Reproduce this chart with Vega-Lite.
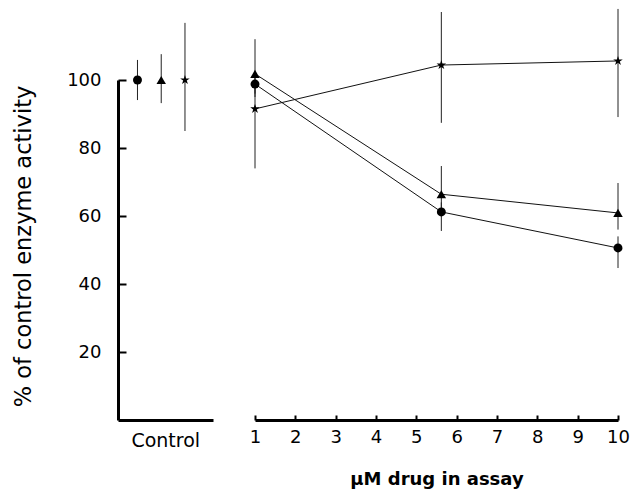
{
  "$schema": "https://vega.github.io/schema/vega-lite/v6.json",
  "padding": {"left": 11, "top": 8, "right": 0, "bottom": 2},
  "bounds": "flush",
  "spacing": 42,
  "config": {
    "view": {"stroke": null},
    "axis": {"grid": false, "domainColor": "black", "tickColor": "black", "labelColor": "black", "titleColor": "black", "labelFont": "DejaVu Sans", "titleFont": "DejaVu Sans"}
  },
  "hconcat": [
    {
      "width": 95,
      "height": 340,
      "data": {"values": [
        {"series": "circle", "pct": 100, "lo": 94.1, "hi": 105.9},
        {"series": "triangle", "pct": 100, "lo": 93.2, "hi": 107.6},
        {"series": "star", "pct": 100, "lo": 85, "hi": 116.8}
      ]},
      "layer": [
        {
          "mark": {"type": "rule", "color": "#222", "strokeWidth": 1},
          "encoding": {
            "x": {"field": "series", "type": "nominal", "scale": {"type": "point", "domain": ["circle", "triangle", "star"], "padding": 1.97, "align": 0.41},
              "axis": {"values": ["triangle"], "labelExpr": "'Control'", "ticks": false, "domainWidth": 3, "labelFontSize": 19, "labelPadding": 11, "labelOffset": 4, "labelAngle": 0, "title": null}},
            "y": {"field": "lo", "type": "quantitative", "scale": {"domain": [0, 100], "nice": false},
              "axis": {"values": [20, 40, 60, 80, 100], "domainWidth": 3, "tickSize": -8, "tickWidth": 2, "labelFontSize": 18, "labelPadding": 25, "title": "% of control enzyme activity", "titleFontSize": 22.5, "titleFontWeight": "normal", "titleX": -95, "titleY": 166, "titleAngle": -90, "titleAlign": "center", "titleBaseline": "middle"}},
            "y2": {"field": "hi"}
          }
        },
        {
          "mark": {"type": "point", "filled": true, "color": "black", "opacity": 1},
          "encoding": {
            "x": {"field": "series", "type": "nominal"},
            "y": {"field": "pct", "type": "quantitative"},
            "shape": {"field": "series", "type": "nominal", "scale": {"domain": ["circle", "triangle", "star"], "range": ["circle", "triangle-up", "M0,-1L0.223,-0.307L0.951,-0.309L0.361,0.117L0.588,0.809L0,0.38L-0.588,0.809L-0.361,0.117L-0.951,-0.309L-0.223,-0.307Z"]}, "legend": null},
            "size": {"field": "series", "type": "nominal", "scale": {"domain": ["circle", "triangle", "star"], "range": [80, 100, 70]}, "legend": null}
          }
        }
      ]
    },
    {
      "width": 363,
      "height": 340,
      "data": {"values": [
        {"series": "circle", "conc": 1, "pct": 98.8, "lo": 95, "hi": 102},
        {"series": "circle", "conc": 5.62, "pct": 61.2, "lo": 55.6, "hi": 64},
        {"series": "circle", "conc": 10, "pct": 50.6, "lo": 44.7, "hi": 54},
        {"series": "triangle", "conc": 1, "pct": 101.8, "lo": 96, "hi": 112},
        {"series": "triangle", "conc": 5.62, "pct": 66.4, "lo": 62, "hi": 74.7},
        {"series": "triangle", "conc": 10, "pct": 60.9, "lo": 56, "hi": 69.7},
        {"series": "star", "conc": 1, "pct": 91.5, "lo": 74, "hi": 100},
        {"series": "star", "conc": 5.62, "pct": 104.4, "lo": 87.4, "hi": 120},
        {"series": "star", "conc": 10, "pct": 105.6, "lo": 89.1, "hi": 120.9}
      ]},
      "layer": [
        {
          "mark": {"type": "rule", "color": "#222", "strokeWidth": 1},
          "encoding": {
            "x": {"field": "conc", "type": "quantitative", "scale": {"domain": [1, 10], "nice": false, "zero": false},
              "axis": {"values": [1, 2, 3, 4, 5, 6, 7, 8, 9, 10], "tickSize": -5, "tickWidth": 2, "domainWidth": 3, "labelFontSize": 18, "labelPadding": 13, "labelFlush": false, "title": "µM drug in assay", "titleFontSize": 18, "titleFontWeight": "bold", "titlePadding": 24}},
            "y": {"field": "lo", "type": "quantitative", "scale": {"domain": [0, 100], "nice": false}, "axis": null},
            "y2": {"field": "hi"}
          }
        },
        {
          "mark": {"type": "line", "color": "#111", "strokeWidth": 1},
          "encoding": {
            "x": {"field": "conc", "type": "quantitative"},
            "y": {"field": "pct", "type": "quantitative"},
            "detail": {"field": "series", "type": "nominal"}
          }
        },
        {
          "mark": {"type": "point", "filled": true, "color": "black", "opacity": 1},
          "encoding": {
            "x": {"field": "conc", "type": "quantitative"},
            "y": {"field": "pct", "type": "quantitative"},
            "shape": {"field": "series", "type": "nominal", "scale": {"domain": ["circle", "triangle", "star"], "range": ["circle", "triangle-up", "M0,-1L0.223,-0.307L0.951,-0.309L0.361,0.117L0.588,0.809L0,0.38L-0.588,0.809L-0.361,0.117L-0.951,-0.309L-0.223,-0.307Z"]}, "legend": null},
            "size": {"field": "series", "type": "nominal", "scale": {"domain": ["circle", "triangle", "star"], "range": [80, 100, 70]}, "legend": null}
          }
        }
      ]
    }
  ]
}
